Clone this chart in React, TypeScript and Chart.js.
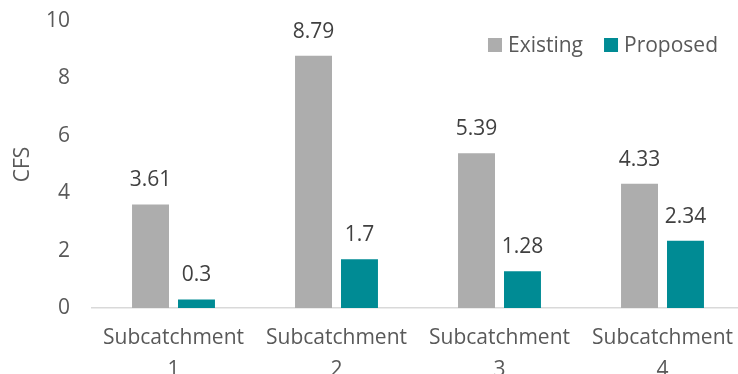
import React, { useEffect, useRef } from "react";
import { Chart, registerables } from "chart.js";

Chart.register(...registerables);

const categories: string[][] = [
  ["Subcatchment", "1"],
  ["Subcatchment", "2"],
  ["Subcatchment", "3"],
  ["Subcatchment", "4"],
];
const existing = [3.61, 8.79, 5.39, 4.33];
const proposed = [0.3, 1.7, 1.28, 2.34];
const seriesNames = ["Existing", "Proposed"];
const colors = ["#ADADAD", "#008B94"];
const yTitle = "CFS";

const FONT = "'Open Sans', 'Liberation Sans', sans-serif";

const labelsPlugin = {
  id: "barLabels",
  afterDatasetsDraw(chart: any) {
    const ctx = chart.ctx;
    ctx.save();
    ctx.font = `21px ${FONT}`;
    ctx.fillStyle = "#404040";
    ctx.textAlign = "center";
    ctx.textBaseline = "alphabetic";
    chart.data.datasets.forEach((ds: any, di: number) => {
      const meta = chart.getDatasetMeta(di);
      meta.data.forEach((bar: any, i: number) => {
        ctx.fillText(String(ds.data[i]), bar.x, bar.y - 18);
      });
    });
    ctx.restore();
  },
};

const legendPlugin = {
  id: "customLegend",
  afterDraw(chart: any) {
    const ctx = chart.ctx;
    const area = chart.chartArea;
    ctx.save();
    ctx.font = `21px ${FONT}`;
    ctx.textBaseline = "middle";
    ctx.textAlign = "left";
    const box = 14;
    const gap = 6;
    const spacing = 21;
    const widths = chart.data.datasets.map((d: any) => ctx.measureText(d.label).width);
    let total = 0;
    widths.forEach((w: number, i: number) => {
      total += box + gap + w + (i > 0 ? spacing : 0);
    });
    let x = area.right - 26 - total;
    const yc = area.top + 24;
    chart.data.datasets.forEach((d: any, i: number) => {
      ctx.fillStyle = d.backgroundColor;
      ctx.fillRect(x, yc - box / 2, box, box);
      ctx.fillStyle = "#595959";
      ctx.fillText(d.label, x + box + gap, yc + 1);
      x += box + gap + widths[i] + spacing;
    });
    ctx.restore();
  },
};

export default function App() {
  const ref = useRef<HTMLCanvasElement | null>(null);
  useEffect(() => {
    if (!ref.current) return;
    const chart = new Chart(ref.current, {
      type: "bar",
      data: {
        labels: categories,
        datasets: [
          { label: seriesNames[0], data: existing, backgroundColor: colors[0], categoryPercentage: 0.564, barPercentage: 0.804 },
          { label: seriesNames[1], data: proposed, backgroundColor: colors[1], categoryPercentage: 0.564, barPercentage: 0.804 },
        ],
      },
      options: {
        animation: false,
        responsive: false,
        maintainAspectRatio: false,
        layout: { padding: { top: 21, left: 10, right: 0, bottom: 0 } },
        plugins: { legend: { display: false }, tooltip: { enabled: false } },
        scales: {
          x: {
            grid: { display: false, drawTicks: false },
            border: { display: true, color: "#D9D9D9", width: 1.5 },
            ticks: {
              color: "#595959",
              font: { family: FONT, size: 21, lineHeight: 1.52 },
              padding: 14,
              maxRotation: 0,
              minRotation: 0,
              autoSkip: false,
            },
            afterFit(scale: any) {
              scale.height = 66;
              scale.paddingLeft = 0;
              scale.paddingRight = 0;
            },
          },
          y: {
            min: 0,
            max: 10,
            grid: { display: false, drawTicks: false },
            border: { display: false },
            ticks: {
              stepSize: 2,
              color: "#595959",
              font: { family: FONT, size: 21 },
              padding: 22,
            },
            title: {
              display: true,
              text: yTitle,
              color: "#595959",
              font: { family: FONT, size: 21, lineHeight: 1.2 },
              padding: 0,
            },
            afterFit(scale: any) {
              scale.width = 82;
              scale.paddingTop = 0;
              scale.paddingBottom = 0;
            },
          },
        },
      },
      plugins: [labelsPlugin, legendPlugin],
    });
    return () => chart.destroy();
  }, []);
  return (
    <div style={{ position: "fixed", left: 0, top: 0, width: 744, height: 374, background: "#fff" }}>
      <canvas ref={ref} width={744} height={374} style={{ display: "block" }} />
    </div>
  );
}
